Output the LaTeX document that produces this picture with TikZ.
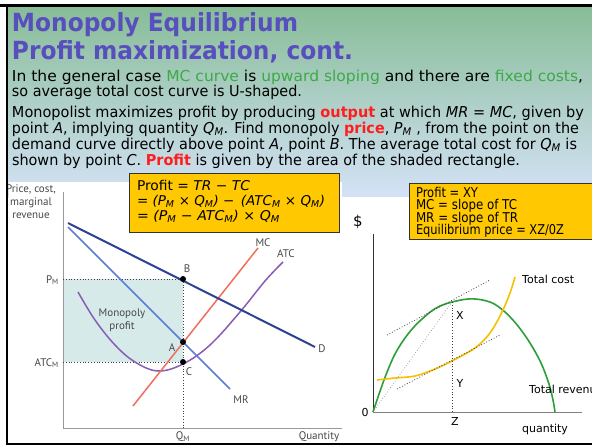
\documentclass[tikz,border=0pt]{standalone}
\usepackage{fontspec}
\usepackage{graphicx}
\setmainfont{DejaVu Sans}
\newfontfamily\cf{PT Sans}
\definecolor{gtop}{RGB}{135,188,151}
\definecolor{gbot}{RGB}{212,226,246}
\definecolor{titlec}{RGB}{88,78,190}
\definecolor{greenc}{RGB}{60,170,70}
\definecolor{redc}{RGB}{255,30,30}
\definecolor{boxy}{RGB}{255,200,0}
\definecolor{shadec}{RGB}{214,234,234}
\definecolor{dcol}{RGB}{46,66,146}
\definecolor{mrcol}{RGB}{90,126,214}
\definecolor{mccol}{RGB}{240,110,92}
\definecolor{atccol}{RGB}{138,92,178}
\definecolor{labc}{RGB}{72,72,72}
\definecolor{trcol}{RGB}{46,158,58}
\definecolor{tccol}{RGB}{247,192,0}
\newcommand\sbm{\textsubscript{\textit{M}}}
\newcommand\rsz[2]{\resizebox{#1pt}{\height}{#2}}
\tikzset{
  txt/.style={anchor=base west,inner sep=0pt,outer sep=0pt},
  ttl/.style={txt,text=titlec,font=\fontsize{25}{25}\selectfont\bfseries},
  body/.style={txt,font=\fontsize{15}{15}\selectfont},
  ybox/.style={txt,font=\fontsize{13.5}{13.5}\selectfont},
  lab/.style={inner sep=0pt,text=labc,font=\cf\fontsize{11}{13}\selectfont},
  rlab/.style={inner sep=0pt,font=\fontsize{11}{11}\selectfont},
  dotp/.style={circle,fill=black,inner sep=0pt,minimum size=6pt},
  yrect/.style={fill=boxy,draw=black!80,line width=0.8pt},
  dots/.style={dotted,line width=0.8pt,black!75}
}
\begin{document}
\begin{tikzpicture}[x=1pt,y=-1pt]
\useasboundingbox (0,0) rectangle (592,447);
\fill[white] (0,0) rectangle (592,447);
\shade[top color=gtop,bottom color=gbot] (7,5) rectangle (592,197);
\fill[white] (9,182) rectangle (342,443);
\fill[white] (342,197) rectangle (592,443);

% title and text
\node[ttl] (t1) at (12,31) {\rsz{286}{Monopoly Equilibrium}};
\node[ttl] (t2) at (12,59) {\rsz{341}{Profit maximization, cont.}};
\node[body] (p1) at (12,81) {\rsz{571}{In the general case \textcolor{greenc}{MC curve} is \textcolor{greenc}{upward sloping} and there are \textcolor{greenc}{fixed costs},}};
\node[body] (p2) at (12,96) {\rsz{290}{so average total cost curve is U-shaped.}};
\node[body] (q1) at (12,117) {\rsz{572}{Monopolist maximizes profit by producing \textcolor{redc}{\textbf{output}} at which \textit{MR} = \textit{MC}, given by}};
\node[body] (q2) at (12,133) {\rsz{567}{point \textit{A}, implying quantity \textit{Q}\sbm. Find monopoly \textcolor{redc}{\textbf{price}}, \textit{P}\sbm\ , from the point on the}};
\node[body] (q3) at (12,149) {\rsz{565}{demand curve directly above point \textit{A}, point \textit{B}. The average total cost for \textit{Q}\sbm{} is}};
\node[body] (q4) at (12,165) {\rsz{508}{shown by point \textit{C}. \textcolor{redc}{\textbf{Profit}} is given by the area of the shaded rectangle.}};

% left chart
\fill[shadec] (63,279) rectangle (183,362);
\draw[black!40,line width=0.9pt] (63,192) -- (63,428) -- (342,428);
\coordinate (B) at (183,279);
\coordinate (A) at (183,342);
\coordinate (C) at (183,362);
\coordinate (pmax) at (63,279);
\coordinate (atcax) at (63,362);
\coordinate (qax) at (183,428);
\draw[dots] (pmax) -- (B);
\draw[dots] (atcax) -- (C);
\draw[dots] (B) -- (qax);
\draw[atccol,line width=1.5pt] plot[smooth,tension=0.6] coordinates {(78,292) (95,320) (115,345) (135,362) (158,371) (183,364) (210,345) (240,312) (265,281) (283,262)};
\draw[mccol,line width=1.5pt] (133,406) -- (258,248);
\draw[mrcol,line width=1.5pt] (68,227) -- (230,389);
\draw[dcol,line width=2pt] (68,223) -- (315,347);
\node[dotp] (Bp) at (B) {};
\node[dotp] (Ap) at (A) {};
\node[dotp] (Cp) at (C) {};
\node[lab,align=center] (yl) at (31,202) {Price, cost,\\marginal\\revenue};
\node[lab,anchor=east] (pm) at (59,280) {P\textsubscript{M}};
\node[lab,anchor=east] (atcm) at (59,363) {ATC\textsubscript{M}};
\node[lab] (bl) at (187,269) {B};
\node[lab] (al) at (172,348) {A};
\node[lab] (cl) at (189,372) {C};
\node[lab] (mcl) at (263,243) {MC};
\node[lab] (atcl) at (286,254) {ATC};
\node[lab] (dl) at (322,349) {D};
\node[lab] (mrl) at (241,400) {MR};
\node[lab] (qml) at (183,437) {Q\textsubscript{M}};
\node[lab] (quant) at (319,437) {Quantity};
\node[lab,align=center] (mp) at (122,320) {Monopoly\\profit};

% right chart
\coordinate (O) at (373,412);
\coordinate (X) at (452,302);
\coordinate (Y) at (452,360);
\coordinate (Z) at (452,412);
\draw[black!80,line width=1pt] (373,234) -- (O);
\draw[black!50,line width=1pt] (O) -- (582,412);
\draw[trcol,line width=1.6pt] plot[smooth,tension=0.55] coordinates {(373,412) (384,380) (395,354) (408,334) (422,319) (440,306) (468,299) (490,302) (505,312) (518,326) (530,343) (541,363) (549,384) (553,400) (555,412)};
\draw[tccol,line width=1.6pt] plot[smooth,tension=0.55] coordinates {(377,380) (395,378) (415,376) (435,369) (452,361) (475,348) (490,333) (502,312) (510,293) (515,277)};
\coordinate (t1a) at (397,389);
\coordinate (t1b) at (500,335);
\coordinate (t2a) at (387,335);
\coordinate (t2b) at (490,280);
\draw[dots] (t1a) -- (t1b);
\draw[dots] (t2a) -- (t2b);
\draw[dotted,line width=0.7pt,black!45] (O) -- (X);
\draw[dots] (X) -- (Z);
\node[rlab,font=\fontsize{15}{15}\selectfont] (dol) at (358,222) {\$};
\node[rlab,anchor=west] (tcl) at (522,279) {Total cost};
\node[rlab] (xl) at (460,315) {X};
\node[rlab] (yl2) at (460,383) {Y};
\node[rlab] (zl) at (455,421) {Z};
\node[rlab] (ol) at (365,412) {0};
\node[rlab] (ql) at (545,429) {quantity};
\begin{scope}
\clip (0,0) rectangle (592,447);
\node[rlab,anchor=west] (trl) at (529,389) {Total revenue};
\end{scope}

% yellow boxes
\draw[yrect] (129,173) rectangle (339,232);
\node[ybox] (f1) at (137,190) {\rsz{113}{Profit = \textit{TR} − \textit{TC}}};
\node[ybox] (f2) at (137,205) {\rsz{188}{\textit{= (P\sbm{} × Q\sbm) −\, (ATC\sbm{} × Q\sbm)}}};
\node[ybox] (f3) at (137,220) {\rsz{143}{\textit{= (P\sbm{} − ATC\sbm) × Q\sbm}}};
\draw[yrect] (409,183) rectangle (594,239);
\node[ybox] (g1) at (416,197) {\rsz{62}{Profit = XY}};
\node[ybox] (g2) at (416,209.5) {\rsz{101}{MC = slope of TC}};
\node[ybox] (g3) at (416,222) {\rsz{102}{MR = slope of TR}};
\node[ybox] (g4) at (416,234.5) {\rsz{148}{Equilibrium price = XZ/0Z}};

% borders
\fill[white] (0,0) rectangle (6,447);
\draw[black,line width=3pt] (0,5.5) -- (592,5.5);
\draw[black,line width=2.5pt] (7.2,4) -- (7.2,445);
\draw[black,line width=2pt] (6,444) -- (592,444);
\end{tikzpicture}
\end{document}
